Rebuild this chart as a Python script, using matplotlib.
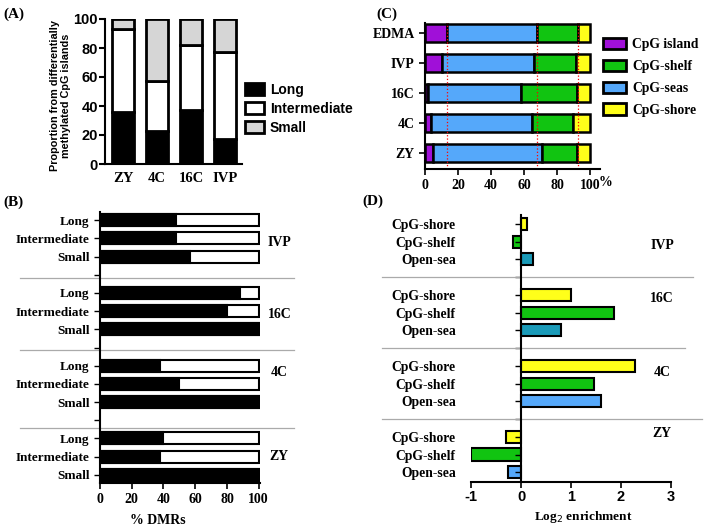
import matplotlib
matplotlib.use('Agg')
import matplotlib.pyplot as plt
from matplotlib.patches import Patch
import numpy as np

W, H = 704, 526
SERIF = 'Liberation Serif'
SANS = 'Liberation Sans'

# panel A: CpG island size classes per stage
a_stages = ['ZY', '4C', '16C', 'IVP']
a_long = [36, 23, 37, 17]
a_inter = [57, 34, 45, 60]
a_small = [7, 43, 18, 23]

# panel B: % DMRs (black = hyper part) per group, top to bottom
b_groups = ['IVP', '16C', '4C', 'ZY']
b_classes = ['Long', 'Intermediate', 'Small']
b_black = {'IVP': [48, 48, 57], '16C': [88, 80, 100], '4C': [38, 50, 100], 'ZY': [40, 38, 100]}

# panel C: genomic context composition
c_stages = ['ZY', '4C', '16C', 'IVP', 'EDMA']
c_island = [5.0, 3.6, 2.0, 10.1, 13.1]
c_seas = [65.7, 61.4, 56.2, 55.9, 54.6]
c_shelf = [21.6, 24.5, 33.7, 25.5, 25.2]
c_shore = [7.7, 10.5, 8.1, 8.5, 7.1]

# panel D: log2 enrichment, top to bottom
d_groups = ['IVP', '16C', '4C', 'ZY']
d_labels = ['CpG-shore', 'CpG-shelf', 'Open-sea']
d_vals = {'IVP': [0.12, -0.16, 0.23], '16C': [1.0, 1.85, 0.8],
          '4C': [2.28, 1.45, 1.6], 'ZY': [-0.3, -1.0, -0.27]}

C_ISLAND = '#a010d8'
C_SHELF = '#11c411'
C_SEAS = '#55a8fa'
C_SHORE = '#ffff1a'
C_TEAL = '#1a9ab8'


def rect(l, t, r, b):
    return [l / W, 1 - b / H, (r - l) / W, (b - t) / H]


fig = plt.figure(figsize=(W / 100, H / 100), dpi=100)
sf = dict(family=SERIF, weight='bold')
ss = dict(family=SANS, weight='bold')

# ---------------- (A)
axA = fig.add_axes(rect(105, 19, 242, 164))
x = np.arange(len(a_stages))
bot2 = np.array(a_long) + np.array(a_inter)
axA.bar(x, a_long, 0.65, color='black', edgecolor='black', lw=2, label='Long')
axA.bar(x, a_inter, 0.65, bottom=a_long, color='white', edgecolor='black', lw=2, label='Intermediate')
axA.bar(x, a_small, 0.65, bottom=bot2, color='#d6d6d6', edgecolor='black', lw=2, label='Small')
axA.set_xlim(-0.53, 3.5)
axA.set_ylim(0, 100)
axA.set_yticks([0, 20, 40, 60, 80, 100])
axA.set_xticks(x)
axA.set_xticklabels(a_stages, fontsize=10.5, **sf)
for t in axA.get_yticklabels():
    t.set_fontproperties(dict(family=SANS, weight='bold', size=10.5))
axA.tick_params(axis='x', length=0, pad=6)
axA.tick_params(axis='y', width=1.5, length=4, pad=1)
for s in ['top', 'right']:
    axA.spines[s].set_visible(False)
for s in ['left', 'bottom']:
    axA.spines[s].set_linewidth(1.5)
axA.set_ylabel('Proportion from differentially\nmethylated CpG islands', fontsize=7.8,
               family=SANS, weight='bold', linespacing=1.2)
axA.yaxis.set_label_coords(-0.245, 0.47)
axA.legend(loc='center left', bbox_to_anchor=(0.98, 0.38), frameon=False,
           prop=dict(family=SANS, weight='bold', size=10), handlelength=1.4,
           handleheight=0.9, handletextpad=0.4, labelspacing=0.35, borderaxespad=0.0)

# ---------------- (B)
axB = fig.add_axes(rect(100, 212, 260, 483))
labels = []
blk = []
for i, g in enumerate(b_groups):
    labels += b_classes
    blk += b_black[g]
    if i < len(b_groups) - 1:
        labels.append('')
        blk.append(np.nan)
ypos = np.arange(len(labels))
blk = np.array(blk, dtype=float)
mask = ~np.isnan(blk)
axB.barh(ypos[mask], np.full(mask.sum(), 100), 0.66, color='white', edgecolor='black', lw=1.5)
axB.barh(ypos[mask], blk[mask], 0.66, color='black', edgecolor='black', lw=1.5)
axB.set_ylim(len(labels) - 0.55, -0.45)
axB.set_xlim(0, 100.8)
axB.set_yticks(ypos)
axB.set_yticklabels(labels, fontsize=9.5, **sf)
axB.set_xticks([0, 20, 40, 60, 80, 100])
axB.set_xticklabels(['0', '20', '40', '60', '80', '100'], fontsize=10, **sf)
axB.tick_params(axis='y', length=4, width=1)
axB.tick_params(axis='x', length=4, width=1.2)
for s in ['top', 'right']:
    axB.spines[s].set_visible(False)
for s in ['left', 'bottom']:
    axB.spines[s].set_linewidth(1.5)
axB.set_xlabel('% DMRs', fontsize=10, **sf)
axB.xaxis.set_label_coords(0.36, -0.115)
for k, off in zip([3, 7, 11], [0.2, 0.15, 0.4]):
    axB.axhline(k + off, xmin=-0.5, xmax=1.21, color='#aaaaaa', lw=0.9, clip_on=False)
for g, yy in zip(b_groups, [1.25, 5.2, 8.4, 13.0]):
    axB.text(113, yy, g, ha='center', va='center', fontsize=10, **sf)

# ---------------- (C)
axC = fig.add_axes(rect(425, 23, 600, 169))
y = np.arange(len(c_stages))
isl = np.array(c_island)
sea = np.array(c_seas)
shf = np.array(c_shelf)
sho = np.array(c_shore)
kw = dict(height=0.6, edgecolor='black', lw=1.8)
axC.barh(y, isl, color=C_ISLAND, **kw)
axC.barh(y, sea, left=isl, color=C_SEAS, **kw)
axC.barh(y, shf, left=isl + sea, color=C_SHELF, **kw)
axC.barh(y, sho, left=isl + sea + shf, color=C_SHORE, **kw)
for v in [isl[-1], isl[-1] + sea[-1], isl[-1] + sea[-1] + shf[-1]]:
    axC.axvline(v, color='red', ls=':', lw=0.9)
axC.set_xlim(0, 106)
axC.set_ylim(-0.53, 4.33)
axC.set_yticks(y)
axC.set_yticklabels(c_stages, fontsize=10, **sf)
axC.set_xticks([0, 20, 40, 60, 80, 100])
axC.set_xticklabels(['0', '20', '40', '60', '80', '100'], fontsize=10, **sf)
axC.text(109.5, -0.98, '%', ha='center', va='center', fontsize=10, clip_on=False, **sf)
axC.tick_params(axis='both', length=4, width=1.2)
for s in ['top', 'right']:
    axC.spines[s].set_visible(False)
for s in ['left', 'bottom']:
    axC.spines[s].set_linewidth(1.5)
handles = [Patch(facecolor=C_ISLAND, edgecolor='black', lw=2, label='CpG island'),
           Patch(facecolor=C_SHELF, edgecolor='black', lw=2, label='CpG-shelf'),
           Patch(facecolor=C_SEAS, edgecolor='black', lw=2, label='CpG-seas'),
           Patch(facecolor=C_SHORE, edgecolor='black', lw=2, label='CpG-shore')]
fig.legend(handles=handles, loc='upper left', bbox_to_anchor=(603 / W, 1 - 38 / H),
           frameon=False, prop=dict(family=SERIF, weight='bold', size=9.8),
           handlelength=1.7, handleheight=0.9, handletextpad=0.45, labelspacing=0.62,
           borderpad=0, borderaxespad=0)

# ---------------- (D)
axD = fig.add_axes(rect(471, 215, 671, 482))
dl = []
dv = []
dc = []
for i, g in enumerate(d_groups):
    sea_c = C_TEAL if g in ('IVP', '16C') else C_SEAS
    dl += d_labels
    dv += d_vals[g]
    dc += [C_SHORE, C_SHELF, sea_c]
    if i < len(d_groups) - 1:
        dl.append('')
        dv.append(0)
        dc.append('white')
yd = np.arange(len(dl))
axD.barh(yd, dv, 0.68, color=dc, edgecolor=['black' if l else 'none' for l in dl], lw=1.5)
axD.set_ylim(len(dl) - 0.45, -0.5)
axD.set_xlim(-1, 3)
axD.spines['left'].set_position(('data', 0))
axD.set_yticks(yd)
axD.set_yticklabels(dl, fontsize=9.8, **sf)
axD.tick_params(axis='y', length=4, width=1, pad=43)
axD.tick_params(axis='x', length=4, width=1.2, pad=2)
axD.set_xticks([-1, 0, 1, 2, 3])
axD.set_xticklabels(['-1', '0', '1', '2', '3'], fontsize=10.5, **ss)
for s in ['top', 'right']:
    axD.spines[s].set_visible(False)
for s in ['left', 'bottom']:
    axD.spines[s].set_linewidth(1.5)
axD.set_xlabel('Log$_2$ enrichment', fontsize=9.5, **sf)
axD.xaxis.set_label_coords(0.56, -0.1)
for k, xr in zip([3, 7, 11], [1.11, 1.07, 1.155]):
    axD.axhline(k, xmin=-0.445, xmax=xr, color='#aaaaaa', lw=0.9, clip_on=False)
for g, yy in zip(d_groups, [1.2, 4.2, 8.4, 11.8]):
    axD.text(2.82, yy, g, ha='center', va='center', fontsize=10, **sf)

# panel letters
for lab, px, py in [('(A)', 3, 14), ('(B)', 3, 202), ('(C)', 376, 14), ('(D)', 362, 201)]:
    fig.text(px / W, 1 - py / H, lab, ha='left', va='center', fontsize=11, **sf)

fig.savefig('out.png', dpi=100)
